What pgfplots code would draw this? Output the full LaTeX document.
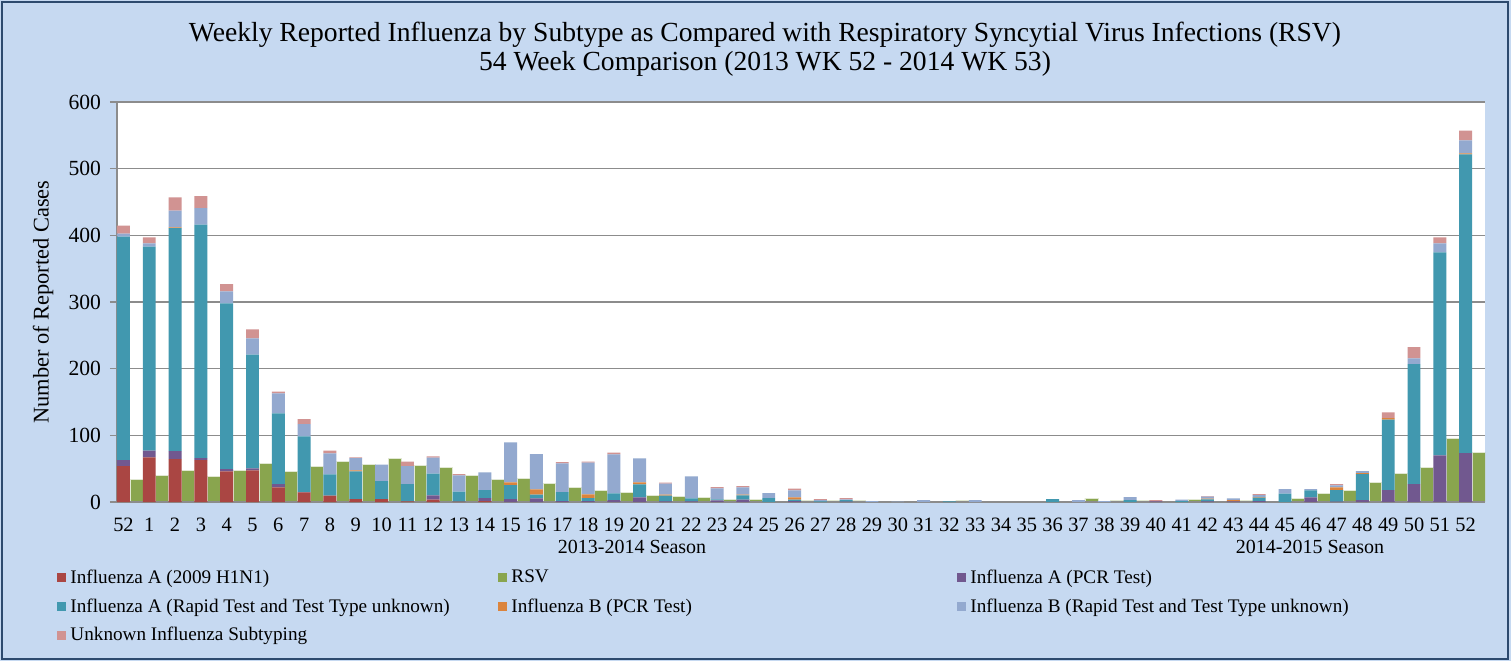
\documentclass[border=0pt]{standalone}
\usepackage{pgfplots}
\usepackage{pgfplotstable}
\pgfplotsset{compat=1.18}
\usepackage{fontspec}
\setmainfont{Liberation Serif}

\definecolor{cH}{HTML}{AA4643}
\definecolor{cAP}{HTML}{71588F}
\definecolor{cAR}{HTML}{4198AF}
\definecolor{cBP}{HTML}{DB843D}
\definecolor{cBR}{HTML}{93A9CF}
\definecolor{cU}{HTML}{D19392}
\definecolor{cRSV}{HTML}{89A54E}
\definecolor{bgblue}{HTML}{C6D9F1}
\definecolor{frame}{HTML}{2D4A6E}
\definecolor{gridgray}{HTML}{8C8C8C}

\pgfplotstableread{
x h1n1 apcr arapid bpcr brapid unk rsv
0 54 9 335 0 4.5 12 33.5
1 67 10 306 0 5 9 40.5
2 64.5 12 334.5 1 25 20 48
3 63 3 350 0 25 18 38.5
4 46 3.5 248.5 0 18 11 48
5 47.5 3 170.5 0 24.5 13.5 58.5
6 22 5 106 0 30 2.5 45.5
7 14.5 0.5 83.5 0 18.5 7.5 53.5
8 9.5 0 32 0 31.5 4 60.5
9 4.5 0 41.5 1.5 18.5 1 56.5
10 4.5 0 27 0 24.5 0 65.5
11 1 0 26 0 27 6.5 54.5
12 3.5 6.5 32.5 0 24 2 51.5
13 0.5 0 15 0 24.5 2 40.5
14 1.5 4.5 12 0 26.5 0 34.5
15 0 4.5 21 4 60 0 36
16 0 5.5 5.5 8 53 0 27.5
17 0 1.5 13.5 0 43 2 22.5
18 0 1.5 4.5 5.5 47.5 1.5 18
19 0 3 10 0 58.5 2.5 14.5
20 0 7 19.5 3 36 0 10.5
21 0 1 8.5 1.5 16.5 1.5 8.5
22 0 1 4.5 0 33 0 7
23 0 2.5 1.5 0 16.5 2 4.5
24 0 3.5 6.5 1 11 2 4
25 0 0 6 0 7.5 0 1.5
26 0 1.5 2 3.5 10.5 2.5 2
27 0 0 1 0 2 1.5 3
28 0 0.5 2.5 0 1 2 2
29 0 0 0 0 1.5 0 0.5
30 0 0 0 0 0.5 0 0.5
31 0 0 0 0 3 0 0.5
32 0 0 1 0 0 0 2.5
33 0 0 0 0 3 0 1.5
34 0 0 0 0 0 0 0.5
35 0 0 0 0 0 0 0.5
36 0 0 4.5 0 0 0 0.5
37 0 0 0 0 3 0 5.5
38 0 0 0 0 1.5 0 2.5
39 0 0 3 0 4.5 0 2.5
40 0 1 0 0 0 2 1.5
41 0 0 1.5 0 2 0 4.5
42 0 1 3 1 3 1 0.5
43 0 1 0 2 2.5 0 3
44 0 1.5 5 1 3 1.5 1.5
45 0 0 12.5 0 7 0 6
46 0 7 10.5 0 2 0 12.5
47 0 0.5 17.5 4 3 2 18
48 0 3 39 1.5 3 0 29
49 0 18 105.5 2.5 0 8.5 42.5
50 0 27 180 0 8.5 17 52.5
51 0 70 304.5 0 13.5 9 95
52 0 73.5 448 1.5 19.5 14.5 75
}\flu

\pgfplotsset{
  common/.style={
    at={(58.5pt,79.5pt)}, anchor=south west,
    scale only axis, width=684pt, height=200pt,
    xmin=-0.25, xmax=52.75, ymin=0, ymax=600,
    enlargelimits=false,
  },
}

\begin{document}
\begin{tikzpicture}
\path[use as bounding box] (0,0) rectangle (755.5pt,330.5pt);
\fill[bgblue] (0,0) rectangle (755.5pt,330.5pt);
\draw[frame, line width=1.3pt] (1pt,1pt) rectangle (754pt,329.5pt);

% background axis: white plot area, gridlines, RSV bars
\begin{axis}[common,
  axis background/.style={fill=white},
  ymajorgrids, grid style={draw=gridgray, line width=0.8pt},
  ytick={0,100,...,600}, yticklabels={},
  xtick=\empty,
  axis line style={draw=none}, tick style={draw=none},
  ybar, bar width=0.5, bar shift=0pt,
]
\addplot[fill=cRSV, draw=white!75!cRSV, line width=0.3pt] table[x expr=\thisrow{x}+0.5, y=rsv]{\flu};
\end{axis}

% foreground axis: stacked influenza bars, axes, labels, legend
\begin{axis}[common,
  ybar stacked, bar width=0.5, bar shift=0pt,
  axis x line*=bottom, axis y line*=left,
  axis line style={draw=gridgray, line width=0.8pt, -},
  ytick={0,100,...,600},
  ytick style={draw=gridgray, line width=0.8pt},
  tick align=outside, major tick length=3.5pt,
  xtick={0,...,52},
  xticklabels={52,1,2,3,4,5,6,7,8,9,10,11,12,13,14,15,16,17,18,19,20,21,22,23,24,25,26,27,28,29,30,31,32,33,34,35,36,37,38,39,40,41,42,43,44,45,46,47,48,49,50,51,52},
  xtick style={draw=none},
  /pgf/number format/assume math mode=true,
  xticklabel style={font=\fontsize{10.2}{12}\selectfont, yshift=-1pt},
  yticklabel style={font=\fontsize{10.8}{12}\selectfont, xshift=-1pt},
  ylabel={Number of Reported Cases},
  every axis y label/.style={at={(axis description cs:-0.0541,0.5)}, rotate=90, anchor=center, font=\fontsize{11.2}{13}\selectfont},
  legend columns=3,
  legend style={at={(axis description cs:-0.0482,-0.148)}, anchor=north west,
    draw=none, fill=none, font=\fontsize{9.6}{11}\selectfont,
    row sep=2.2pt,
    /tikz/every even column/.append style={column sep=0pt}},
  legend cell align=left,
  legend image code/.code={\fill[#1] (0pt,-2.25pt) rectangle (4.5pt,2.25pt);},
]
\addplot[fill=cH, draw=none] table[x=x, y=h1n1]{\flu};
\addlegendentry{\makebox[212pt][l]{Influenza A (2009 H1N1)}}
\addlegendimage{fill=cRSV, draw=none}
\addlegendentry{\makebox[221pt][l]{RSV}}
\addplot[fill=cAP, draw=none] table[x=x, y=apcr]{\flu};
\addlegendentry{Influenza A (PCR Test)}
\addplot[fill=cAR, draw=none] table[x=x, y=arapid]{\flu};
\addlegendentry{\makebox[212pt][l]{Influenza A (Rapid Test and Test Type unknown)}}
\addplot[fill=cBP, draw=none] table[x=x, y=bpcr]{\flu};
\addlegendentry{\makebox[221pt][l]{Influenza B (PCR Test)}}
\addplot[fill=cBR, draw=none] table[x=x, y=brapid]{\flu};
\addlegendentry{Influenza B (Rapid Test and Test Type unknown)}
\addplot[fill=cU, draw=none] table[x=x, y=unk]{\flu};
\addlegendentry{\makebox[212pt][l]{Unknown Influenza Subtyping}}
\end{axis}

\node[font=\fontsize{13.8}{15}\selectfont, anchor=base] at (382.5pt,309.8pt) {Weekly Reported Influenza by Subtype as Compared with Respiratory Syncytial Virus Infections (RSV)};
\node[font=\fontsize{13.8}{15}\selectfont, anchor=base] at (382.5pt,295.3pt) {54 Week Comparison (2013 WK 52 - 2014 WK 53)};
\node[font=\fontsize{10}{12}\selectfont, anchor=base] at (316pt,54pt) {2013-2014 Season};
\node[font=\fontsize{10}{12}\selectfont, anchor=base] at (655pt,54pt) {2014-2015 Season};
\end{tikzpicture}
\end{document}
